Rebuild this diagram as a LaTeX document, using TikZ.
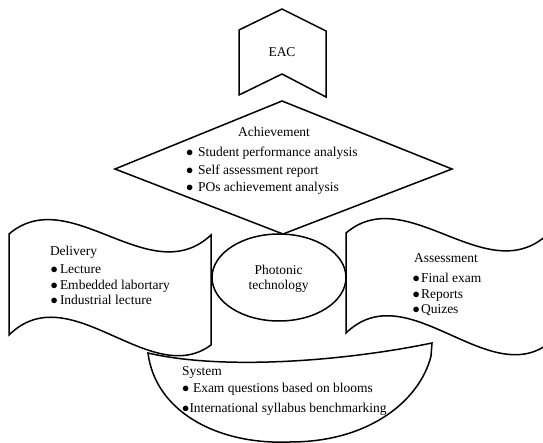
\documentclass[tikz,border=0pt]{standalone}
\usepackage{fontspec}
\setmainfont{Liberation Serif}
\newcommand{\bl}[2]{\makebox[#1][l]{$\bullet$}#2}
\begin{document}
\begin{tikzpicture}[x=1pt,y=-1pt,
  shp/.style={draw=black,line width=1.5pt,line join=miter},
  txt/.style={inner sep=0pt,outer sep=0pt,anchor=base west,font=\fontsize{13.5}{16}\selectfont},
  ctxt/.style={inner sep=0pt,outer sep=0pt,anchor=base,font=\fontsize{13.5}{16}\selectfont}]
\useasboundingbox (0,0) rectangle (543,443);
\clip (0,0) rectangle (543,443);
% EAC
\draw[shp] (239,30) -- (282,9) -- (326,31) -- (326,97) -- (282,74) -- (239,95) -- cycle;
\node[ctxt] (eac) at (282,56.5) {EAC};
% Achievement diamond
\draw[shp] (282,101) -- (452,169) -- (283,234) -- (115,169) -- cycle;
\node[ctxt] (ach) at (274,137) {Achievement};
\node[txt] (a1) at (186,157) {\bl{12pt}{Student performance analysis}};
\node[txt] (a2) at (186,174.5) {\bl{12pt}{Self assessment report}};
\node[txt] (a3) at (186,192) {\bl{12pt}{POs achievement analysis}};
% Delivery
\draw[shp] (9,234) .. controls (70,182) and (150,292) .. (211,235) -- (211,345)
  .. controls (150,390) and (70,275) .. (9,335) -- cycle;
\node[txt] (del) at (50,256) {Delivery};
\node[txt] (d1) at (50.5,274) {\bl{9.5pt}{Lecture}};
\node[txt] (d2) at (50.5,289.5) {\bl{9.5pt}{Embedded labortary}};
\node[txt] (d3) at (50.5,304.5) {\bl{9.5pt}{Industrial lecture}};
% Assessment
\draw[shp] (346,233) .. controls (407,181) and (487,291) .. (548,234) -- (548,344)
  .. controls (487,389) and (407,274) .. (346,333) -- cycle;
\node[txt] (as) at (414,262.5) {Assessment};
\node[txt] (s1) at (412.5,282.5) {\bl{8.5pt}{Final exam}};
\node[txt] (s2) at (412.5,298.5) {\bl{8.5pt}{Reports}};
\node[txt] (s3) at (412.5,313.5) {\bl{8.5pt}{Quizes}};
% System
\draw[shp] (148,353) .. controls (220,370) and (340,362) .. (432,343) -- (431,356)
  .. controls (420,400) and (370,442) .. (290,442)
  .. controls (215,445) and (155,410) .. (148,353) -- cycle;
\node[txt] (sys) at (182,375.5) {System};
\node[txt] (y1) at (182,392) {\bl{11pt}{Exam questions based on blooms}};
\node[txt] (y2) at (182,412.5) {\bl{7.5pt}{International syllabus benchmarking}};
% Photonic technology
\draw[shp,fill=white] (279,277.5) ellipse [x radius=67, y radius=43.5];
\node[ctxt] (p1) at (278.5,274.5) {Photonic};
\node[ctxt] (p2) at (278.5,289.5) {technology};
\end{tikzpicture}
\end{document}
